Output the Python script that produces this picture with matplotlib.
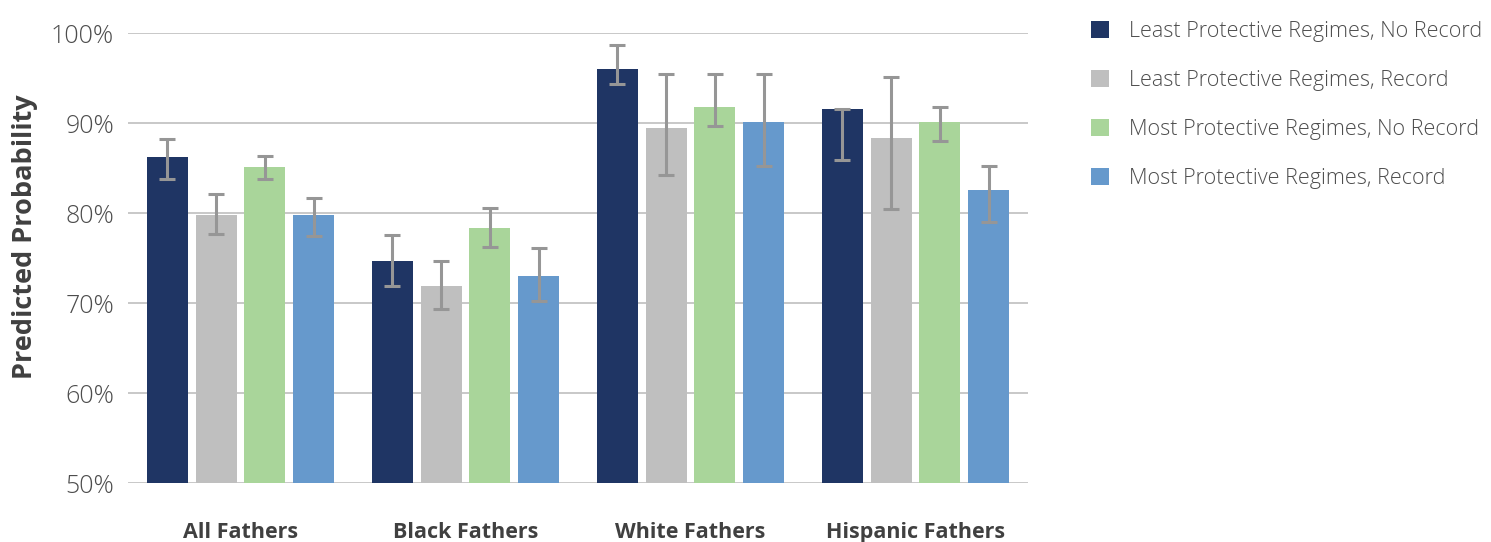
import matplotlib
matplotlib.use("Agg")
import matplotlib.pyplot as plt
import numpy as np
from matplotlib.patches import Patch

plt.rcParams['font.family'] = ['Open Sans', 'DejaVu Sans']

categories = ["All Fathers", "Black Fathers", "White Fathers", "Hispanic Fathers"]
series_names = [
    "Least Protective Regimes, No Record",
    "Least Protective Regimes, Record",
    "Most Protective Regimes, No Record",
    "Most Protective Regimes, Record",
]
colors = ["#1f3564", "#bfbfbf", "#a9d59a", "#6699cc"]

# predicted probabilities (%)
least_no_record = [86.3, 74.7, 96.0, 91.6]
least_record = [79.8, 71.9, 89.5, 88.4]
most_no_record = [85.1, 78.4, 91.8, 90.1]
most_record = [79.8, 73.0, 90.1, 82.6]

# confidence interval bounds (%)
least_no_record_lo = [83.8, 71.9, 94.4, 85.9]
least_no_record_hi = [88.2, 77.6, 98.7, 91.6]
least_record_lo = [77.7, 69.4, 84.3, 80.5]
least_record_hi = [82.1, 74.7, 95.5, 95.1]
most_no_record_lo = [83.8, 76.2, 89.7, 88.0]
most_no_record_hi = [86.4, 80.6, 95.5, 91.8]
most_record_lo = [77.5, 70.2, 85.3, 79.0]
most_record_hi = [81.7, 76.1, 95.5, 85.2]

values = [least_no_record, least_record, most_no_record, most_record]
lows = [least_no_record_lo, least_record_lo, most_no_record_lo, most_record_lo]
highs = [least_no_record_hi, least_record_hi, most_no_record_hi, most_record_hi]

fig = plt.figure(figsize=(14.91, 5.42), dpi=100)
ax = fig.add_axes([0.0858, 0.1083, 0.6037, 0.8303])

x = np.arange(len(categories))
step = 0.2165
width = 0.182
for i, (vals, lo, hi, c) in enumerate(zip(values, lows, highs, colors)):
    pos = x + (i - 1.5) * step
    vals = np.array(vals)
    yerr = np.vstack([vals - np.array(lo), np.array(hi) - vals])
    ax.bar(pos, vals, width=width, color=c, zorder=2, bottom=0)
    ax.errorbar(pos, vals, yerr=yerr, fmt='none', ecolor='#969696',
                elinewidth=2.2, capsize=5.5, capthick=2.2, zorder=3)

ax.set_xlim(-0.5, 3.5)
ax.set_ylim(50, 100)
ax.set_yticks(np.arange(50, 101, 10))
ax.set_yticklabels([f"{v}%" for v in range(50, 101, 10)], fontweight='light')
ax.yaxis.grid(True, color='#bfbfbf', linewidth=1.2, zorder=0)
ax.set_axisbelow(True)
for s in ax.spines.values():
    s.set_visible(False)
ax.tick_params(axis='y', length=0, labelsize=18, labelcolor='#4d4d4d', pad=10)
ax.tick_params(axis='x', length=0, labelsize=15.5, labelcolor='#404040', pad=28)
ax.set_xticks(x)
ax.set_xticklabels(categories, fontweight='bold')
ax.set_ylabel("Predicted Probability", fontsize=19.5, fontweight='bold',
              color='#404040')
ax.yaxis.set_label_coords(-0.1, 0.548)

handles = [Patch(facecolor=c, edgecolor='none') for c in colors]
fig.legend(handles, series_names, loc='upper left', bbox_to_anchor=(0.719, 0.997),
           frameon=False, labelcolor='#4d4d4d', handlelength=0.8,
           handleheight=0.8, handletextpad=0.95, labelspacing=1.3,
           prop={'weight': 'light', 'size': 15.5})

fig.savefig("out.png", dpi=100, facecolor='white')
